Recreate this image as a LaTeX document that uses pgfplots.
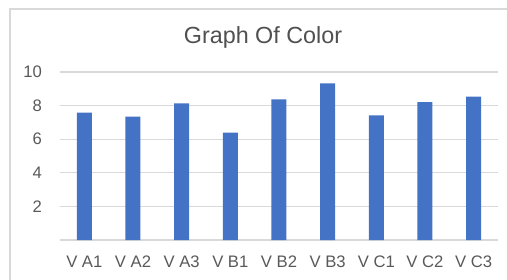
\documentclass[border=0pt]{standalone}
\usepackage{pgfplots}
\pgfplotsset{compat=1.18}
\usepackage{fontspec}
\setmainfont{Liberation Sans}
\definecolor{barblue}{HTML}{4472C4}
\definecolor{txtgray}{HTML}{595959}
\definecolor{gridgray}{HTML}{D9D9D9}
\begin{document}
\begin{tikzpicture}
\clip (0,0) rectangle (380.25pt,209.25pt);
\path[use as bounding box] (0,0) rectangle (380.25pt,209.25pt);
\draw[gridgray, line width=0.8pt] (7.5pt,-20pt) -- (7.5pt,202.5pt) -- (420pt,202.5pt);
\node[text=txtgray!90!black, font=\fontsize{17.5}{20}\selectfont] at (197.25pt,181pt) {Graph Of Color};
\begin{axis}[
  at={(45pt,29.25pt)}, anchor=south west,
  scale only axis, width=328.5pt, height=126pt,
  xmin=-0.5, xmax=8.5, ymin=0, ymax=10,
  axis line style={draw=none},
  axis x line*=bottom,
  ytick={2,4,6,8,10},
  ymajorgrids, grid style={gridgray, line width=0.8pt},
  major tick length=0pt,
  xtick=data,
  xticklabels={V A1,V A2,V A3,V B1,V B2,V B3,V C1,V C2,V C3},
  tick label style={text=txtgray, font=\fontsize{12.5}{14}\selectfont},
  yticklabel style={xshift=-10pt},
  xticklabel style={yshift=-8.5pt},
  /pgf/number format/assume math mode=true,
  ybar, bar width=11.25pt,
  clip=false,
]
\draw[gridgray, line width=0.8pt] (axis cs:-0.5,0) -- (axis cs:8.5,0);
\addplot[fill=barblue, draw=none] coordinates {
 (0,7.58) (1,7.34) (2,8.13) (3,6.39) (4,8.37) (5,9.33) (6,7.42) (7,8.21) (8,8.53)};
\end{axis}
\end{tikzpicture}
\end{document}
